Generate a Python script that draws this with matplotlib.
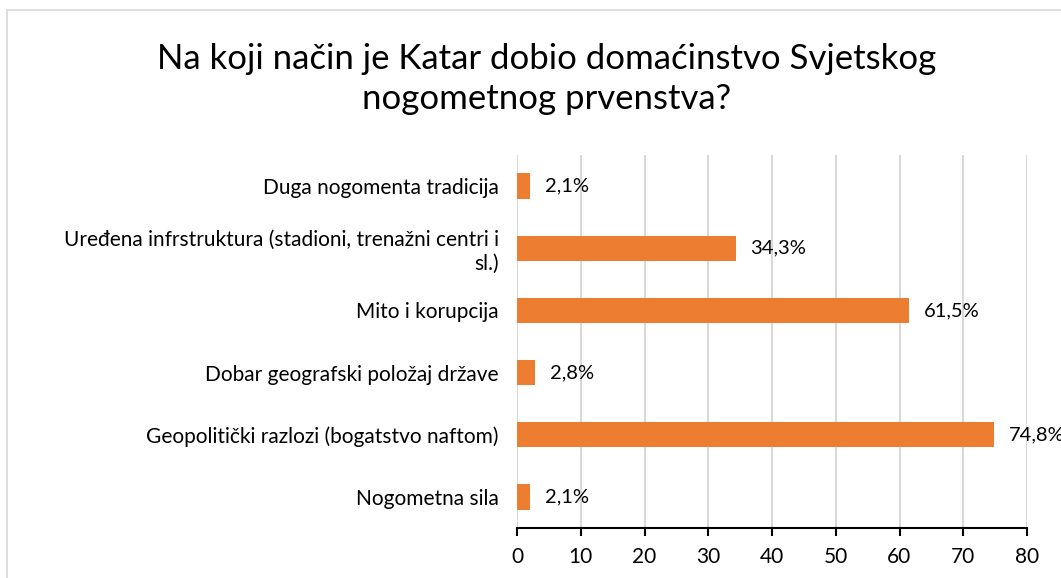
import matplotlib.pyplot as plt
from matplotlib.patches import Rectangle

categories = [
    "Duga nogomenta tradicija",
    "Uređena infrstruktura (stadioni, trenažni centri i\nsl.)",
    "Mito i korupcija",
    "Dobar geografski položaj države",
    "Geopolitički razlozi (bogatstvo naftom)",
    "Nogometna sila",
]
values = [2.1, 34.3, 61.5, 2.8, 74.8, 2.1]
value_labels = ["2,1%", "34,3%", "61,5%", "2,8%", "74,8%", "2,1%"]
xticks = [0, 10, 20, 30, 40, 50, 60, 70, 80]

plt.rcParams["font.family"] = ["Lato", "DejaVu Sans"]

fig = plt.figure(figsize=(10.61, 5.78), dpi=100)
fig.patches.append(Rectangle((7 / 1061, -0.1), 1.2, 1.1 - 10 / 578,
                             transform=fig.transFigure, fill=False,
                             edgecolor="#D9D9D9", linewidth=1.2))

ax = fig.add_axes([517 / 1061, 1 - 528 / 578, (1027 - 517) / 1061, (528 - 155) / 578])
ypos = list(range(len(categories)))
ax.barh(ypos, values, height=0.41, color="#ED7D31", zorder=3)
ax.set_ylim(len(categories) - 0.5, -0.5)
ax.set_xlim(0, 80)
ax.set_xticks(xticks)
ax.set_xticklabels([str(t) for t in xticks], fontsize=15)
ax.set_yticks(ypos)
ax.set_yticklabels(categories, fontsize=15, multialignment="right", linespacing=1.2)
ax.tick_params(axis="y", length=0, pad=13)
ax.tick_params(axis="x", length=6, width=1.5, direction="out", pad=8, color="black")
ax.grid(axis="x", color="#D9D9D9", linewidth=1.5, zorder=0)
for s in ["top", "right", "left"]:
    ax.spines[s].set_visible(False)
ax.spines["bottom"].set_linewidth(1.5)

for y, v, lab in zip(ypos, values, value_labels):
    ax.text(v + 2.3, y, lab, va="center", ha="left", fontsize=14.5, zorder=4)

fig.text(0.515, 1 - 79 / 578, "Na koji način je Katar dobio domaćinstvo Svjetskog\nnogometnog prvenstva?",
         ha="center", va="center", fontsize=25, linespacing=1.3)

fig.savefig("out.png", dpi=100)
